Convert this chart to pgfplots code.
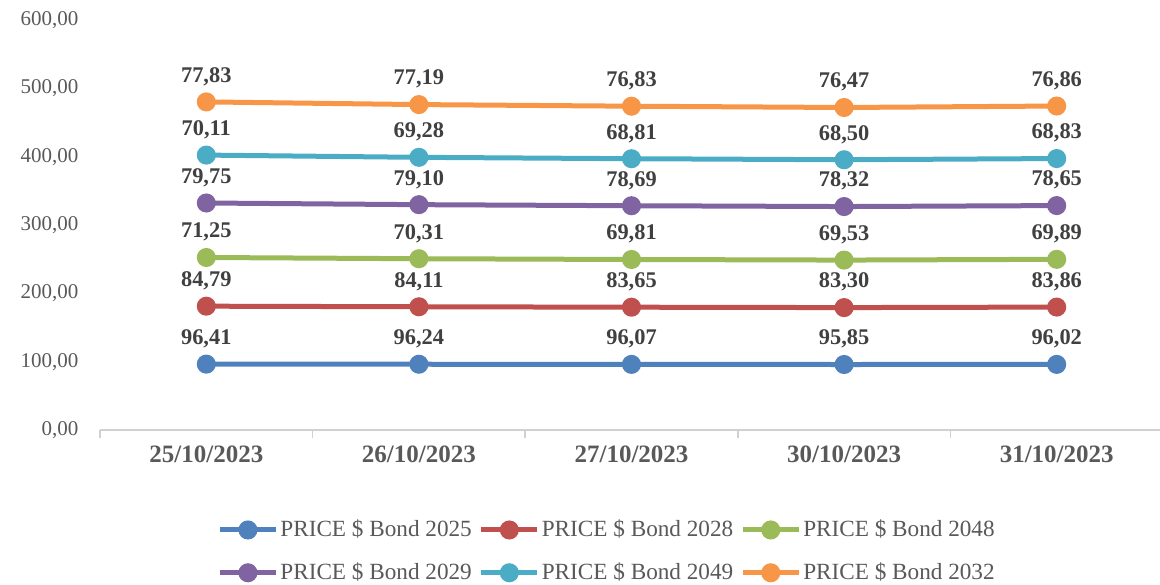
\documentclass[border=0pt]{standalone}
\usepackage{pgfplots}
\pgfplotsset{compat=1.18}
\usepackage{fontspec}
\setmainfont{Liberation Serif}
\definecolor{cA}{HTML}{4F81BD}
\definecolor{cB}{HTML}{C0504D}
\definecolor{cC}{HTML}{9BBB59}
\definecolor{cD}{HTML}{8064A2}
\definecolor{cE}{HTML}{4BACC6}
\definecolor{cF}{HTML}{F79646}
\definecolor{txt}{HTML}{595959}
\definecolor{lbl}{HTML}{404040}
\begin{document}
\begin{tikzpicture}
\useasboundingbox (-50pt,-77pt) rectangle (530pt,215pt);
\begin{axis}[
  at={(0pt,0pt)}, anchor=south west, scale only axis,
  width=531.5pt, height=205pt,
  xmin=-0.5, xmax=4.5, ymin=0, ymax=600,
  stack plots=y,
  clip=false,
  axis x line*=bottom, axis y line*=left,
  y axis line style={draw=none},
  x axis line style={draw=black!18, line width=0.8pt},
  /pgf/number format/assume math mode=true,
  ytick={0,100,...,600},
  major y tick style={draw=none},
  yticklabel style={/pgf/number format/fixed, /pgf/number format/fixed zerofill, /pgf/number format/precision=2, /pgf/number format/use comma, /pgf/number format/1000 sep={}},
  yticklabel style={font=\fontsize{10.5}{12}\selectfont, text=txt, xshift=-3pt},
  xtick={0,1,2,3,4},
  xticklabels={25/10/2023,26/10/2023,27/10/2023,30/10/2023,31/10/2023},
  xticklabel style={font=\bfseries\fontsize{12.5}{14}\selectfont, text=txt, yshift=0pt},
  major x tick style={draw=none},
  minor xtick={-0.5,0.5,1.5,2.5,3.5,4.5},
  minor x tick style={draw=black!18, line width=0.8pt},
  tick align=outside, minor tick length=4pt,
  every axis plot/.append style={line width=2.5pt, mark=*, mark size=3.5pt},
  point meta=explicit,
  nodes near coords={\pgfmathprintnumber[fixed,fixed zerofill,precision=2,use comma]{\pgfplotspointmeta}},
  every node near coord/.append style={font=\bfseries\fontsize{11.2}{13}\selectfont, text=lbl, yshift=3.5pt},
  legend columns=3,
  legend style={at={(0.477,-0.296)}, anchor=center, draw=none,
    font=\fontsize{11.6}{13}\selectfont, text=txt,
    nodes={inner sep=1pt},
    row sep=9.5pt,
    /tikz/every even column/.append style={column sep=2.5pt}},
  legend image code/.code={\draw[mark repeat=2,mark phase=2] plot coordinates {(0pt,0pt)(14pt,0pt)(28pt,0pt)};},
]
\addplot[color=cA] coordinates {(0,96.41)[96.41] (1,96.24)[96.24] (2,96.07)[96.07] (3,95.85)[95.85] (4,96.02)[96.02]};
\addlegendentry{PRICE \$ Bond 2025}
\addplot[color=cB] coordinates {(0,84.79)[84.79] (1,84.11)[84.11] (2,83.65)[83.65] (3,83.30)[83.30] (4,83.86)[83.86]};
\addlegendentry{PRICE \$ Bond 2028}
\addplot[color=cC] coordinates {(0,71.25)[71.25] (1,70.31)[70.31] (2,69.81)[69.81] (3,69.53)[69.53] (4,69.89)[69.89]};
\addlegendentry{PRICE \$ Bond 2048}
\addplot[color=cD] coordinates {(0,79.75)[79.75] (1,79.10)[79.10] (2,78.69)[78.69] (3,78.32)[78.32] (4,78.65)[78.65]};
\addlegendentry{PRICE \$ Bond 2029}
\addplot[color=cE] coordinates {(0,70.11)[70.11] (1,69.28)[69.28] (2,68.81)[68.81] (3,68.50)[68.50] (4,68.83)[68.83]};
\addlegendentry{PRICE \$ Bond 2049}
\addplot[color=cF] coordinates {(0,77.83)[77.83] (1,77.19)[77.19] (2,76.83)[76.83] (3,76.47)[76.47] (4,76.86)[76.86]};
\addlegendentry{PRICE \$ Bond 2032}
\end{axis}
\end{tikzpicture}
\end{document}
